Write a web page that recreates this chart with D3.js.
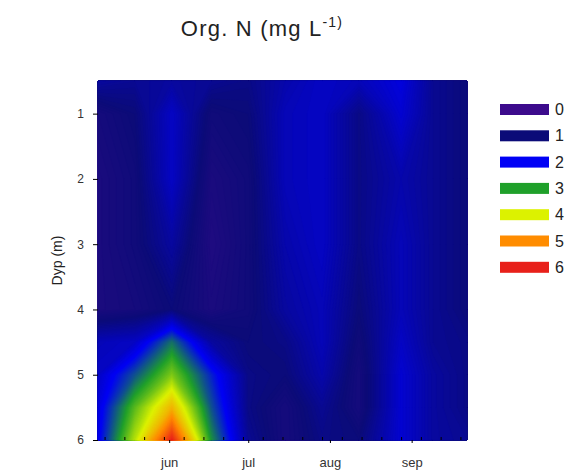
<!DOCTYPE html>
<html>
<head>
<meta charset="utf-8">
<script src="https://cdn.jsdelivr.net/npm/d3@7"></script>
<style>
  body { margin: 0; background: #fff; }
  svg { display: block; font-family: "Liberation Sans", Arial, sans-serif; }
</style>
</head>
<body>
<div id="chart"></div>
<script>
const parseDate = d3.timeParse("%Y-%m-%d");

// sampling dates (one profile each)
const sampleDates = ["2011-05-05", "2011-05-19", "2011-06-02", "2011-06-17", "2011-07-01",
  "2011-07-15", "2011-07-29", "2011-08-12", "2011-08-28", "2011-09-09", "2011-09-22"].map(parseDate);

// sampling depths (m)
const depths = [0.5, 1, 2, 3, 4, 4.5, 5, 5.5, 6];

// Org. N (mg/L) per profile, ordered by depth
const may05 = [1.3, 0.8, 0.7, 0.7, 0.7, 1.5, 1.6, 1.8, 1.9];
const may19 = [1.2, 1.0, 0.9, 0.9, 0.8, 1.6, 2.5, 3.3, 3.8];
const jun02 = [1.3, 1.6, 1.6, 1.3, 1.0, 2.7, 3.5, 4.6, 6.0];
const jun17 = [1.2, 0.9, 0.7, 0.6, 0.7, 1.3, 2.2, 2.5, 2.9];
const jul01 = [1.1, 1.0, 0.9, 0.9, 0.9, 1.0, 1.1, 1.1, 1.2];
const jul15 = [1.4, 1.5, 1.5, 1.4, 1.3, 1.1, 1.0, 0.8, 0.8];
const jul29 = [1.6, 1.6, 1.6, 1.6, 1.5, 1.5, 1.4, 1.2, 1.1];
const aug12 = [1.5, 1.1, 1.1, 1.1, 1.0, 0.9, 0.8, 0.8, 1.0];
const aug28 = [1.8, 1.7, 1.4, 1.5, 1.5, 1.6, 1.7, 1.7, 1.7];
const sep09 = [1.2, 1.2, 1.2, 1.2, 1.2, 1.2, 1.3, 1.3, 1.3];
const sep22 = [1.0, 1.0, 1.0, 1.0, 1.0, 1.1, 1.1, 1.1, 1.2];
const profiles = [may05, may19, jun02, jun17, jul01, jul15, jul29, aug12, aug28, sep09, sep22];

const legendValues = [0, 1, 2, 3, 4, 5, 6];
const legendColors = ["#3c0b8c", "#0b0b78", "#0000f5", "#1fa02a", "#dcf200", "#ff8c00", "#e8201a"];

const depthTicks = [1, 2, 3, 4, 5, 6];
const monthLabels = ["jun", "jul", "aug", "sep"];
const monthStarts = ["2011-06-01", "2011-07-01", "2011-08-01", "2011-09-01"].map(parseDate);

var width = 572, height = 473;
var plotLeft = 98, plotTop = 81, plotRight = 467, plotBottom = 440;

const svg = d3.select("#chart")
    .append("svg")
    .attr("width", width)
    .attr("height", height);

var x = d3.scaleTime()
    .domain([sampleDates[0], sampleDates[sampleDates.length - 1]])
    .range([plotLeft, plotRight]);

var y = d3.scaleLinear()
    .domain([0.5, 6])
    .range([plotTop, plotBottom]);

var color = d3.scaleLinear()
    .domain(legendValues)
    .range(legendColors)
    .clamp(true);

// grid for d3.contours: rows = depths, columns = dates
var nx = sampleDates.length, ny = depths.length;
var grid = new Array(nx * ny);
for (var j = 0; j < ny; j++) {
    for (var i = 0; i < nx; i++) {
        grid[j * nx + i] = profiles[i][j];
    }
}

// contour grid coords -> pixels (sample k sits at k + 0.5)
function gridToPx(c, arr, scale) {
    var t = Math.max(0, Math.min(arr.length - 1, c - 0.5));
    var k = Math.min(arr.length - 2, Math.floor(t));
    var f = t - k;
    return scale(arr[k]) * (1 - f) + scale(arr[k + 1]) * f;
}

var projection = d3.geoTransform({
    point: function(px, py) {
        this.stream.point(gridToPx(px, sampleDates, x), gridToPx(py, depths, y));
    }
});
var path = d3.geoPath(projection);

var step = 0.04;
var contours = d3.contours()
    .size([nx, ny])
    .thresholds(d3.range(0, 6 + step / 2, step))(grid);

svg.append("g")
    .selectAll("path")
    .data(contours)
    .enter()
    .append("path")
    .attr("d", path)
    .attr("fill", function(d) { return color(d.value + step / 2); })
    .attr("stroke", function(d) { return color(d.value + step / 2); })
    .attr("stroke-width", 0.4);

// y axis
svg.append("g")
    .attr("transform", "translate(" + plotLeft + ",0)")
    .call(d3.axisLeft(y).tickValues(depthTicks).tickSize(5).tickPadding(9).tickFormat(d3.format("d")))
    .call(g => g.select(".domain").remove())
    .selectAll("text")
        .attr("font-family", "Liberation Sans, Arial, sans-serif")
        .attr("font-size", 12)
        .attr("fill", "#333");

// x axis: minor ticks pointing in
var minorTicks = d3.range(0, 19).map(function(k) {
    return d3.timeHour.offset(sampleDates[0], 60 + k * 180);
});
svg.append("g")
    .attr("transform", "translate(0," + plotBottom + ")")
    .call(d3.axisBottom(x).tickValues(minorTicks).tickSize(-3).tickFormat(""))
    .call(g => g.select(".domain").remove());

svg.append("g")
    .attr("transform", "translate(0," + plotBottom + ")")
    .call(d3.axisBottom(x).tickValues(monthStarts).tickSize(3).tickPadding(15)
        .tickFormat(function(d, i) { return monthLabels[i]; }))
    .call(g => g.select(".domain").remove())
    .selectAll("text")
        .attr("font-family", "Liberation Sans, Arial, sans-serif")
        .attr("font-size", 13)
        .attr("fill", "#333");

// y label
svg.append("text")
    .attr("transform", "translate(62," + ((plotTop + plotBottom) / 2) + ") rotate(-90)")
    .attr("text-anchor", "middle")
    .attr("font-size", 14)
    .attr("fill", "#222")
    .text("Dyp (m)");

// title
var title = svg.append("text")
    .attr("x", 262)
    .attr("y", 36)
    .attr("text-anchor", "middle")
    .attr("font-size", 22)
    .attr("letter-spacing", 1.2)
    .attr("fill", "#222");
title.append("tspan").text("Org. N (mg L");
title.append("tspan").attr("dy", -9).attr("font-size", 14).text("-1)");

// legend
var legend = svg.append("g");
legend.selectAll("rect")
    .data(legendValues)
    .enter()
    .append("rect")
    .attr("x", 500)
    .attr("y", function(d, i) { return 104 + i * 26.3; })
    .attr("width", 49)
    .attr("height", 11)
    .attr("fill", function(d) { return color(d); });
legend.selectAll("text")
    .data(legendValues)
    .enter()
    .append("text")
    .attr("x", 555)
    .attr("y", function(d, i) { return 104 + i * 26.3 + 11; })
    .attr("font-size", 16)
    .attr("fill", "#222")
    .text(function(d) { return d; });
</script>
</body>
</html>
